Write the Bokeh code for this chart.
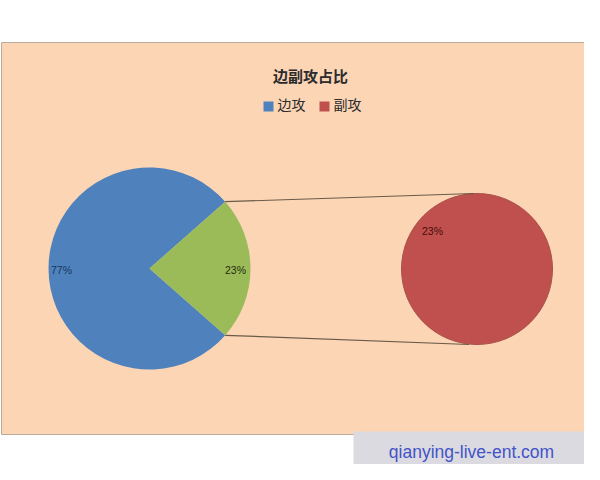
import math
from bokeh.plotting import figure
from bokeh.models import Range1d
from bokeh.core.properties import value
from bokeh.embed import file_html
from bokeh.resources import INLINE

# ---- data ----
title_text = "边副攻占比"
categories = ["边攻", "副攻"]
values = [77, 23]
secondary_values = [23]
watermark = "qianying-live-ent.com"

main_colors = ["#4F81BD", "#9BBB59"]
second_color = "#C0504D"
legend_colors = ["#4F81BD", "#C0504D"]

# ---- layout (page pixel coordinates, y measured from the top) ----
W, H = 600, 480
def Y(ry):
    return H - ry

p = figure(width=584, height=464, output_backend="svg", toolbar_location=None,
           x_range=Range1d(0, 584), y_range=Range1d(H - 464, H),
           min_border=0, background_fill_color="white", border_fill_color="white")
p.axis.visible = False
p.grid.visible = False
p.outline_line_color = None

# chart panel
p.quad(left=[1], right=[599], top=[Y(42)], bottom=[Y(434)],
       fill_color="#FCD5B5", line_color="#B9AC9C", line_width=1)

# main pie
cx1, cy1, r1 = 149, Y(268), 101
total = sum(values)
half = math.pi * values[1] / total  # secondary slice centered at angle 0
p.wedge(x=[cx1], y=[cy1], radius=r1, start_angle=half, end_angle=2 * math.pi - half,
        fill_color=main_colors[0], line_color=None)
p.wedge(x=[cx1], y=[cy1], radius=r1, start_angle=-half, end_angle=half,
        fill_color=main_colors[1], line_color=None)

# second pie (full circle)
cx2, cy2, r2 = 476.5, Y(268.5), 75.5
p.circle(x=[cx2], y=[cy2], radius=r2, fill_color=second_color, line_color="#A9514A", line_width=1)

# connector lines
ex = cx1 + r1 * math.cos(half)
ey_top = cy1 + r1 * math.sin(half)
ey_bot = cy1 - r1 * math.sin(half)
p.line(x=[ex, cx2 - 3], y=[ey_top, cy2 + r2], line_color="#6A5A48", line_width=1.2)
p.line(x=[ex, cx2 - 8], y=[ey_bot, cy2 - r2], line_color="#6A5A48", line_width=1.2)

# data labels
lab_font = value("Liberation Sans")
p.text(x=[61], y=[Y(269)], text=[f"{values[0]}%"], text_font=lab_font, text_font_size="10.5px",
       text_color="#17375E", text_align="center", text_baseline="middle")
p.text(x=[235], y=[Y(269)], text=[f"{values[1]}%"], text_font=lab_font, text_font_size="10.5px",
       text_color="#1E2E0C", text_align="center", text_baseline="middle")
p.text(x=[432], y=[Y(230)], text=[f"{secondary_values[0]}%"], text_font=lab_font, text_font_size="10.5px",
       text_color="#4A0C0C", text_align="center", text_baseline="middle")

# title
cjk = value("Noto Sans CJK SC")
p.text(x=[310], y=[Y(75)], text=[title_text], text_font=cjk, text_font_size="15px",
       text_font_style="bold", text_color="#2B2B2B", text_align="center", text_baseline="middle")

# legend
leg_x = [268, 324]
for i, name in enumerate(categories):
    p.scatter(x=[leg_x[i]], y=[Y(106)], marker="square", size=10,
              fill_color=legend_colors[i], line_color=None)
    p.text(x=[leg_x[i] + 9], y=[Y(103)], text=[name], text_font=cjk, text_font_size="14px",
           text_color="#2B2B2B", text_align="left", text_baseline="middle")

# watermark
p.quad(left=[353], right=[590], top=[Y(431)], bottom=[Y(470)],
       fill_color="#DADAE0", line_color=None)
p.text(x=[471], y=[Y(451)], text=[watermark], text_font=value("Liberation Sans"),
       text_font_size="17.5px", text_color="#4353C8", text_align="center", text_baseline="middle")

open("out.html", "w").write(file_html(p, INLINE))
